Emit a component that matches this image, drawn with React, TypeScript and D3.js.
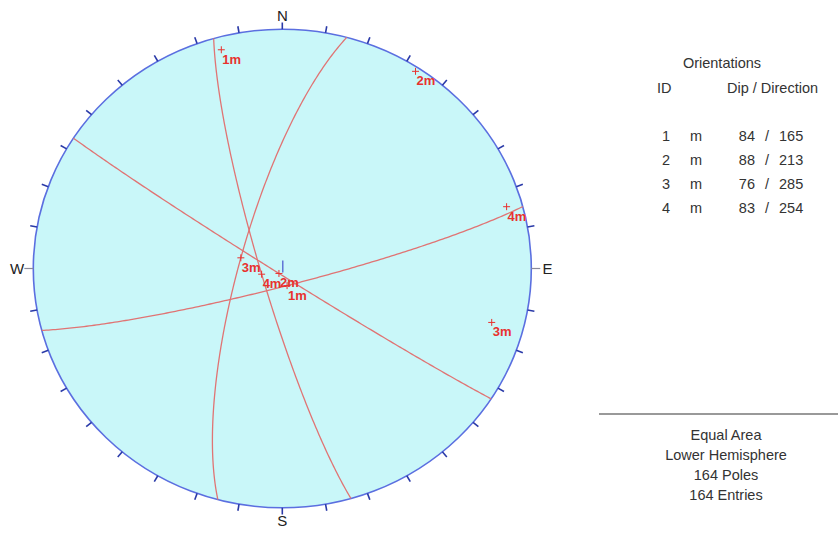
import React from "react";
import * as d3 from "d3";

const ids = ["1", "2", "3", "4"];
const setNames = ["m", "m", "m", "m"];
const dips = [84, 88, 76, 83];
const dipDirections = [165, 213, 285, 254];
const infoLines = ["Equal Area", "Lower Hemisphere", "164 Poles", "164 Entries"];
const compass = [
  { label: "N", az: 0 },
  { label: "E", az: 90 },
  { label: "S", az: 180 },
  { label: "W", az: 270 },
];
const tickAzimuths = d3.range(0, 360, 10);

const W = 838, H = 533;
const CX = 282.3, CY = 268.5, RX = 249, RY = 239.3;
const rad = Math.PI / 180;

const rScale = d3.scaleLinear().domain([0, 1]).range([0, 1]);
function project(trend: number, plunge: number, rr = 1): [number, number] {
  const r = rScale(Math.SQRT2 * Math.sin(((90 - plunge) / 2) * rad)) * rr;
  return [CX + r * RX * Math.sin(trend * rad), CY - r * RY * Math.cos(trend * rad)];
}
function rim(az: number, k: number): [number, number] {
  return [CX + k * RX * Math.sin(az * rad), CY - k * RY * Math.cos(az * rad)];
}

function greatCircle(dip: number, dd: number): [number, number][] {
  const s = dd - 90;
  const sv = [Math.cos(s * rad), Math.sin(s * rad), 0];
  const dv = [Math.cos(dip * rad) * Math.cos(dd * rad), Math.cos(dip * rad) * Math.sin(dd * rad), Math.sin(dip * rad)];
  return d3.range(0, 180.5, 1).map((a) => {
    const c = Math.cos(a * rad), sn = Math.sin(a * rad);
    const v = [c * sv[0] + sn * dv[0], c * sv[1] + sn * dv[1], c * sv[2] + sn * dv[2]];
    const plunge = Math.asin(Math.max(-1, Math.min(1, v[2]))) / rad;
    const trend = Math.atan2(v[1], v[0]) / rad;
    return project(trend, Math.max(0, plunge));
  });
}

const RED = "#e8322f";
const LINE_RED = "#e07474";

export default function App() {
  const line = d3.line<[number, number]>().x((d) => d[0]).y((d) => d[1]);
  const font = "'Liberation Sans', Arial, sans-serif";
  return (
    <svg width={W} height={H} style={{ position: "absolute", left: 0, top: 0, background: "#fff" }} fontFamily={font}>
      <ellipse cx={CX} cy={CY} rx={RX} ry={RY} fill="#c9f7f9" stroke="#5b6fe0" strokeWidth={1.6} />
      {tickAzimuths.filter((a) => a !== 90 && a !== 270).map((a) => {
        const p1 = rim(a, 1);
        const p2 = rim(a, 1.028);
        return <line key={a} x1={p1[0]} y1={p1[1]} x2={p2[0]} y2={p2[1]} stroke="#2a3aa8" strokeWidth={1.6} />;
      })}
      {[90, 270].map((a) => {
        const p1 = rim(a, 1);
        const p2 = rim(a, 1.036);
        return <line key={a} x1={p1[0]} y1={p1[1]} x2={p2[0]} y2={p2[1]} stroke="#8a8a9a" strokeWidth={1.2} />;
      })}
      {compass.map((c) => {
        const p = rim(c.az, c.az % 180 === 0 ? 1.055 : 1.065);
        return (
          <text key={c.label} x={p[0]} y={p[1]} dy="0.36em" textAnchor="middle" fontSize={15} fill="#222">
            {c.label}
          </text>
        );
      })}
      {dips.map((d, i) => (
        <path key={"gc" + i} d={line(greatCircle(d, dipDirections[i])) || ""} fill="none" stroke={LINE_RED} strokeWidth={1.3} />
      ))}
      <line x1={CX + 0.5} y1={CY - 8} x2={CX + 0.5} y2={CY + 4} stroke="#5060d0" strokeWidth={1.3} />
      {dips.map((d, i) => {
        const pts = [project((dipDirections[i] + 180) % 360, 90 - d), project(dipDirections[i], d)];
        return pts.map((p, j) => (
          <g key={"p" + i + "_" + j}>
            <line x1={p[0] - 3.5} y1={p[1]} x2={p[0] + 3.5} y2={p[1]} stroke={RED} strokeWidth={1} />
            <line x1={p[0]} y1={p[1] - 3.5} x2={p[0]} y2={p[1] + 3.5} stroke={RED} strokeWidth={1} />
            <text x={p[0] + 1} y={p[1] + 14} fontSize={13} fontWeight="bold" fill={RED}>
              {ids[i] + setNames[i]}
            </text>
          </g>
        ));
      })}
      <g fill="#333" fontSize={14.5}>
        <text x={722} y={63} dy="0.35em" textAnchor="middle">Orientations</text>
        <text x={657} y={88} dy="0.35em">ID</text>
        <text x={727} y={88} dy="0.35em">Dip / Direction</text>
        {ids.map((id, i) => {
          const y = 136 + i * 24;
          return (
            <g key={"row" + id}>
              <text x={666} y={y} dy="0.35em" textAnchor="middle">{id}</text>
              <text x={696} y={y} dy="0.35em" textAnchor="middle">{setNames[i]}</text>
              <text x={755} y={y} dy="0.35em" textAnchor="end">{dips[i]}</text>
              <text x={767} y={y} dy="0.35em" textAnchor="middle">/</text>
              <text x={779} y={y} dy="0.35em">{dipDirections[i]}</text>
            </g>
          );
        })}
      </g>
      <line x1={599} y1={414} x2={838} y2={414} stroke="#777" strokeWidth={1.5} />
      <g fill="#333" fontSize={14.5}>
        {infoLines.map((t, i) => (
          <text key={t} x={726} y={435 + i * 20} dy="0.35em" textAnchor="middle">{t}</text>
        ))}
      </g>
    </svg>
  );
}
